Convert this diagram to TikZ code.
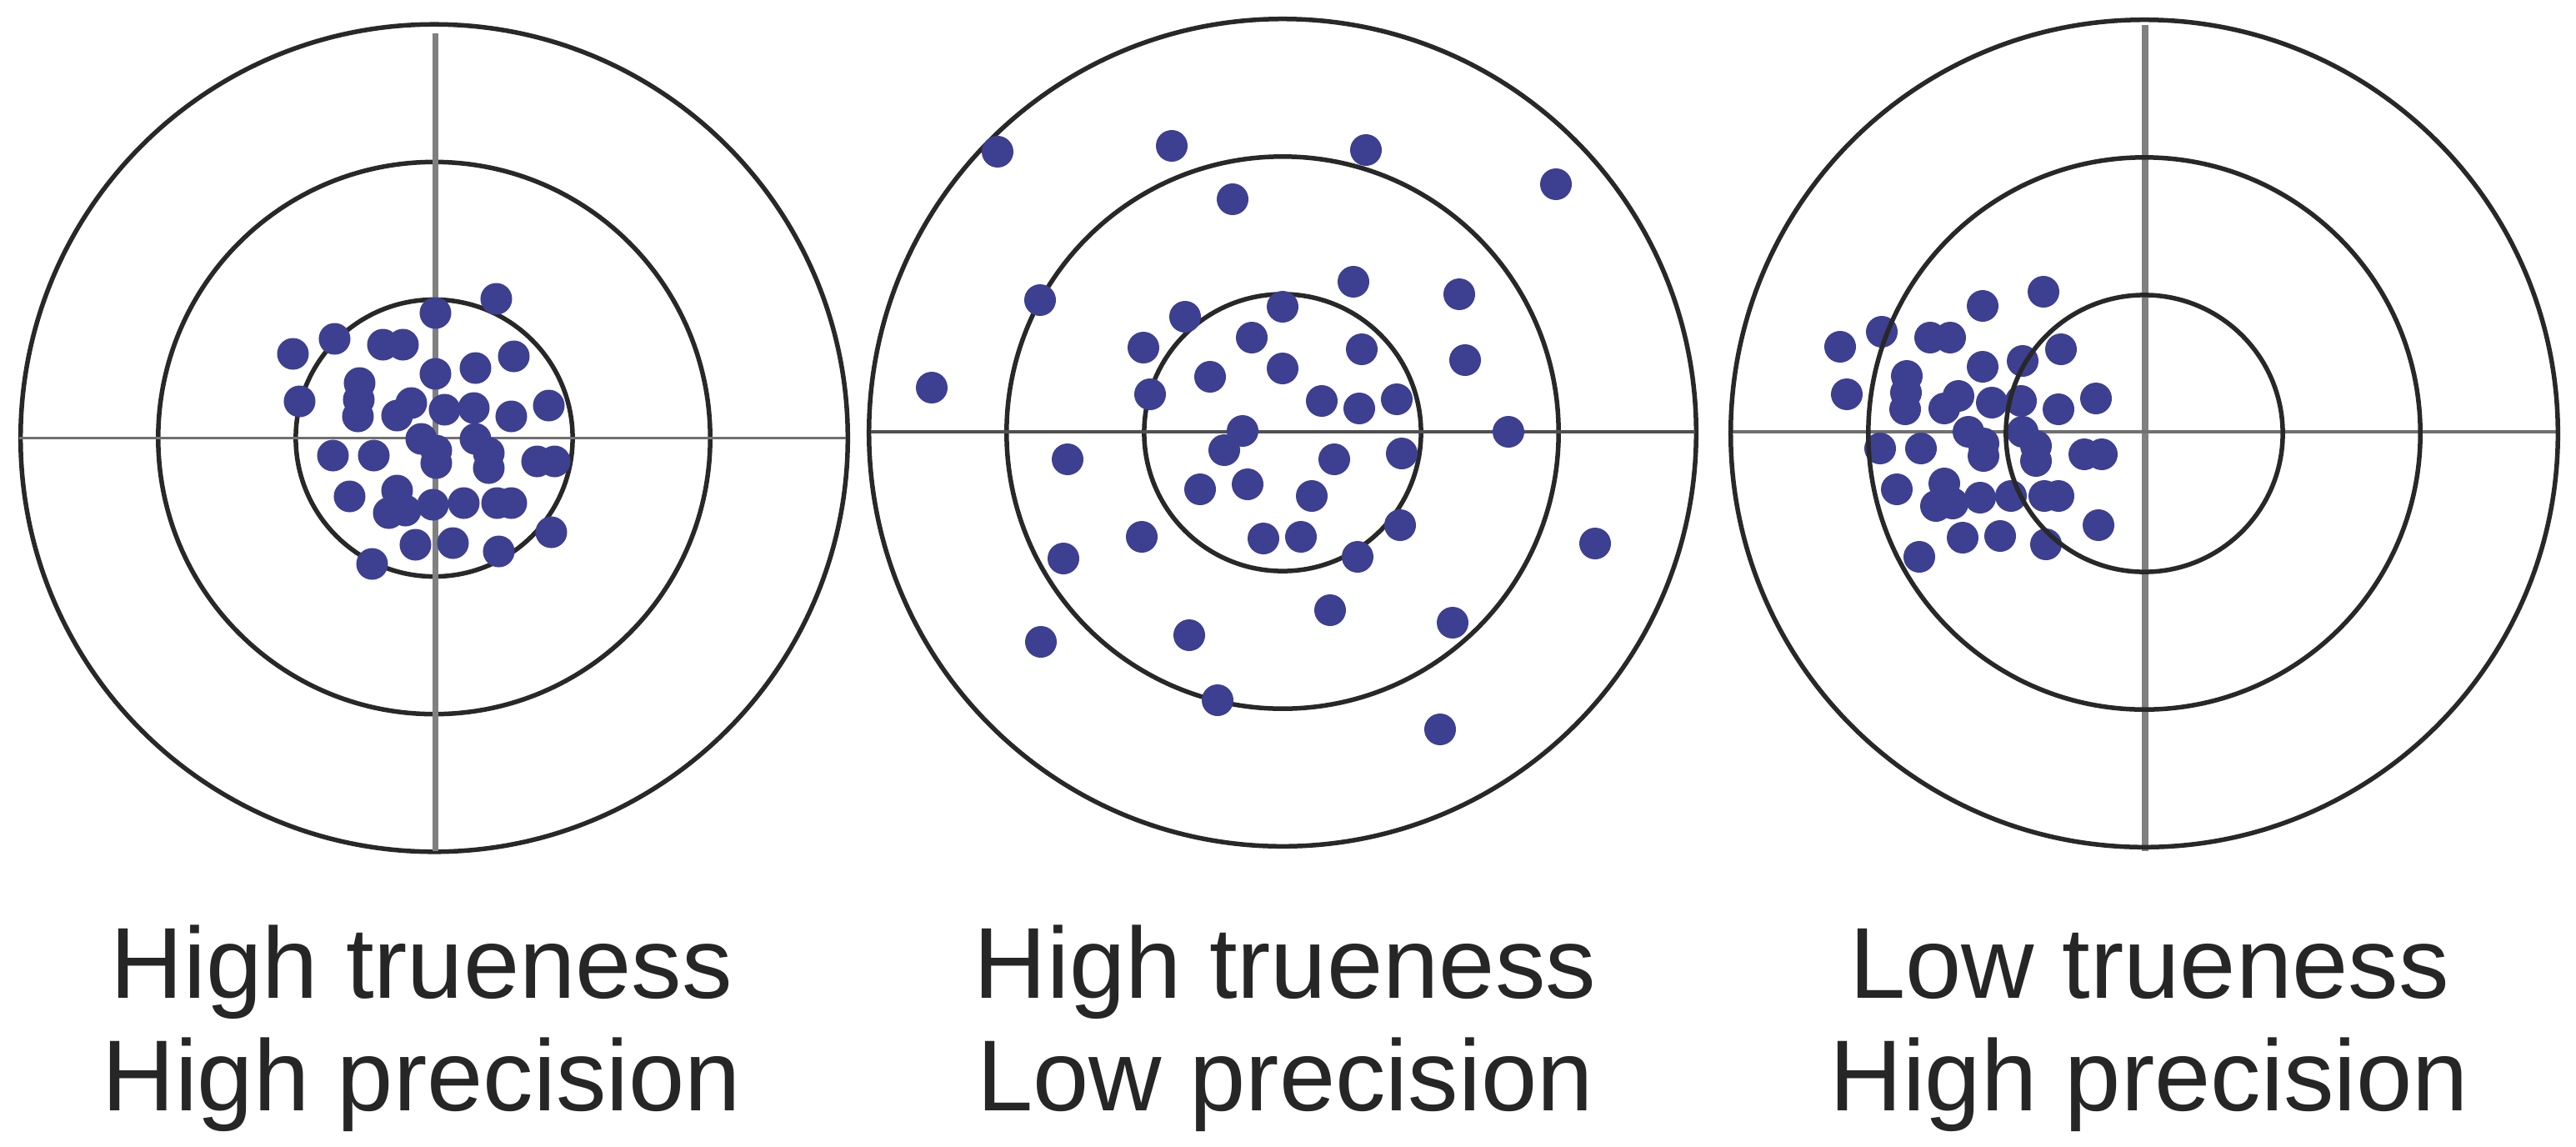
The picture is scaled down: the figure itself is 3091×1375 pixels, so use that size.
\documentclass[tikz,border=0pt]{standalone}
\usepackage{fontspec}
\setmainfont{Liberation Sans}
\definecolor{ringc}{RGB}{40,40,40}
\definecolor{crossc}{RGB}{128,128,128}
\definecolor{hlinec}{RGB}{112,112,112}
\definecolor{hlinedark}{RGB}{80,80,80}
\definecolor{dotc}{RGB}{61,63,145}
\definecolor{textc}{RGB}{38,38,38}
\tikzset{
  ring/.style={draw=ringc, line width=0.055cm},
  vcross/.style={draw=crossc, line width=0.075cm},
  hcross/.style={draw=hlinec, line width=0.035cm},
  shot/.style={fill=dotc},
  lbltext/.style={text=textc, anchor=base, inner sep=0pt, font=\fontsize{34.4pt}{38.4pt}\selectfont},
}
\newcommand{\ringset}[1]{%
  \draw[ring] #1 circle[radius=1.66cm];
  \draw[ring] #1 circle[radius=3.31cm];
  \draw[ring] #1 circle[radius=4.96cm];
}
\newcommand{\clusterpattern}{%
  \foreach \p in {(73,-167),(0,-150),(-121,-119),(-171,-101),(-63,-112),(-39,-112),
    (94,-98),(48,-84),(0,-77),(-91,-66),(-92,-46),(-93,-26),(-163,-44),(-29,-42),
    (-46,-27),(11,-34),(46,-36),(91,-26),(136,-39),(-17,1),(1,15),(1,30),
    (48,1),(64,18),(64,36),(-123,21),(-74,21),(122,28),(143,28),(-103,70),
    (-46,63),(-56,90),(-36,87),(-3,80),(34,78),(74,78),(91,78),(139,113),
    (-24,128),(21,126),(76,136),(-76,151)}
    {\fill[shot] \p circle[radius=0.19cm];}%
}
\begin{document}
\begin{tikzpicture}[x=0.01cm, y=-0.01cm]
\useasboundingbox (0,0) rectangle (3091,1375);
\fill[white] (0,0) rectangle (3091,1375);

% ---- target 1: high trueness, high precision
\ringset{(521,525.5)}
\draw[vcross] (522.5,40) -- (522.5,1021);
\draw[hcross] (23,525.5) -- (1015,525.5);
\begin{scope}[shift={(522.5,525.5)}]
  \clusterpattern
\end{scope}

% ---- target 2: high trueness, low precision
\ringset{(1539,519)}
\draw[hcross, draw=hlinedark] (1045,518) -- (2034,518);
\foreach \p in {(1197,182),(1406,175),(1639,180),(1867,221),(1479,239),(1248,360),
  (1624,338),(1751,353),(1422,380),(1539,368),(1372,417),(1502,405),(1634,419),
  (1758,432),(1118,465),(1452,452),(1539,442),(1380,473),(1586,481),(1631,490),
  (1676,479),(1810,518),(1491,517),(1469,540),(1281,551),(1601,551),(1682,544),
  (1440,587),(1497,581),(1574,595),(1370,644),(1516,646),(1561,644),(1680,630),
  (1276,670),(1629,668),(1914,652),(1596,732),(1743,747),(1249,770),(1427,762),
  (1461,840),(1728,875)}
  {\fill[shot] \p circle[radius=0.19cm];}

% ---- target 3: low trueness, high precision
\draw[vcross] (2574,30) -- (2574,1021);
\draw[hcross] (2078,518) -- (3068,518);
\begin{scope}[shift={(2379,517)}]
  \clusterpattern
\end{scope}
\ringset{(2573,520)}

% ---- captions
\node[lbltext] (c1a) at (506,1197) {High trueness};
\node[lbltext] (c1b) at (506,1332) {High precision};
\node[lbltext] (c2a) at (1542,1197) {High trueness};
\node[lbltext] (c2b) at (1542,1332) {Low precision};
\node[lbltext] (c3a) at (2579,1197) {Low trueness};
\node[lbltext] (c3b) at (2579,1332) {High precision};
\end{tikzpicture}
\end{document}
